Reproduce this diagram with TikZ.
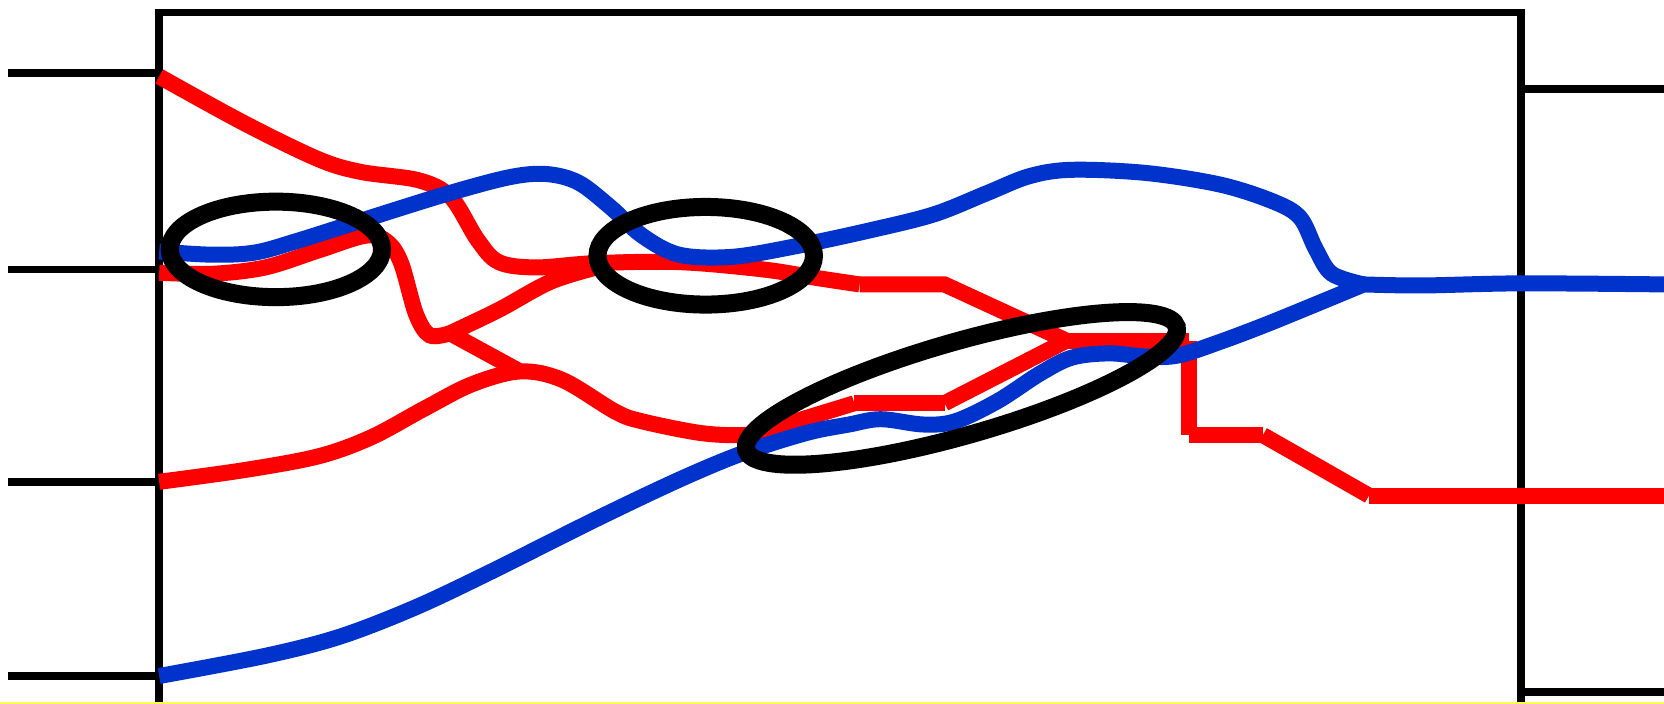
\documentclass[tikz,border=0pt]{standalone}
\definecolor{myblue}{RGB}{0,51,204}
\definecolor{myyellow}{RGB}{255,255,80}
\begin{document}
\begin{tikzpicture}[x=1.0612pt,y=-1.0612pt,
  frame/.style={line width=7.5pt,black},
  wire/.style={line width=16pt},
  rw/.style={wire,draw=red},
  bw/.style={wire,draw=myblue},
  loopring/.style={line width=18pt,black}]
\useasboundingbox (0,0) rectangle (1568,663);
% frame
\draw[frame] (150,670) -- (150,12) -- (1433,12) -- (1433,670);
\foreach \y in {69,254,454,637} \draw[frame] (8,\y) -- (150,\y);
\foreach \y in {84,268,467,652} \draw[frame] (1433,\y) -- (1568,\y);
% junction coordinates
\coordinate (j1) at (810,268);
\coordinate (j2) at (890,268);
\coordinate (j3) at (1005,321);
\coordinate (j4) at (1120,321);
\coordinate (j5) at (1120,410);
\coordinate (j6) at (1190,410);
\coordinate (j7) at (1290,467);
\coordinate (rEnd) at (1568,467);
\coordinate (k1) at (424,314);
\coordinate (k2) at (490,350);
\coordinate (m1) at (720,406);
\coordinate (m2) at (805,380);
\coordinate (m3) at (890,380);
\coordinate (bj) at (1285,268);
\coordinate (bEnd) at (1568,268);
% red wires
\draw[rw] plot[smooth,tension=0.55] coordinates {(150,72) (230,116) (300,150) (340,162) (395,170) (425,186) (450,226) (470,247) (505,252) (560,248) (640,247) (720,254) (770,262) (j1)};
\draw[rw] (j1) -- (j2) -- (j3);
\draw[rw] (j3) -- (j4);
\draw[rw] (j4) -- (j5);
\draw[rw] (j5) -- (j6);
\draw[rw] (j6) -- (j7);
\draw[rw] (j7) -- (rEnd);
\draw[rw] plot[smooth,tension=0.55] coordinates {(150,257) (200,258) (250,252) (300,236) (345,222) (365,228) (378,248) (392,296) (405,316) (k1)};
\draw[rw] plot[smooth,tension=0.55] coordinates {(k1) (470,292) (520,265) (570,250)};
\draw[rw] (k1) -- (k2);
\draw[rw] plot[smooth,tension=0.55] coordinates {(150,454) (230,443) (300,430) (350,412) (400,385) (445,362) (490,350) (530,358) (580,388) (605,397) (660,408) (700,410) (m1)};
\draw[rw] (m1) -- (m2);
\draw[rw] (m2) -- (m3);
\draw[rw] (m3) -- (j3);
% blue wires
\draw[bw] plot[smooth,tension=0.55] coordinates {(150,237) (200,240) (240,238) (280,227) (340,208) (420,183) (480,167) (515,164) (545,172) (575,195) (605,222) (640,240) (690,242) (750,232) (820,217) (880,202) (930,182) (970,166) (1010,160) (1080,163) (1150,174) (1200,190) (1225,205) (1240,235) (1255,258) (bj)};
\draw[bw] plot[smooth,tension=0.55] coordinates {(bj) (1340,269) (1433,267) (bEnd)};
\draw[bw] plot[smooth,tension=0.55] coordinates {(150,637) (250,618) (320,600) (390,573) (460,540) (560,490) (640,452) (700,427) (760,408) (800,400) (830,395) (870,400) (900,397) (940,378) (980,352) (1010,337) (1045,333) (1080,336) (1110,335) (1150,322) (1200,303) (bj)};
% loops
\draw[loopring] (260,235) ellipse [x radius=100, y radius=45];
\draw[loopring] (665,241) ellipse [x radius=102, y radius=46];
\draw[loopring, rotate around={16:(906,366)}] (906,366) ellipse [x radius=211, y radius=44];
% bottom line
\draw[myyellow, line width=2pt] (0,662.5) -- (1568,662.5);
\end{tikzpicture}
\end{document}
